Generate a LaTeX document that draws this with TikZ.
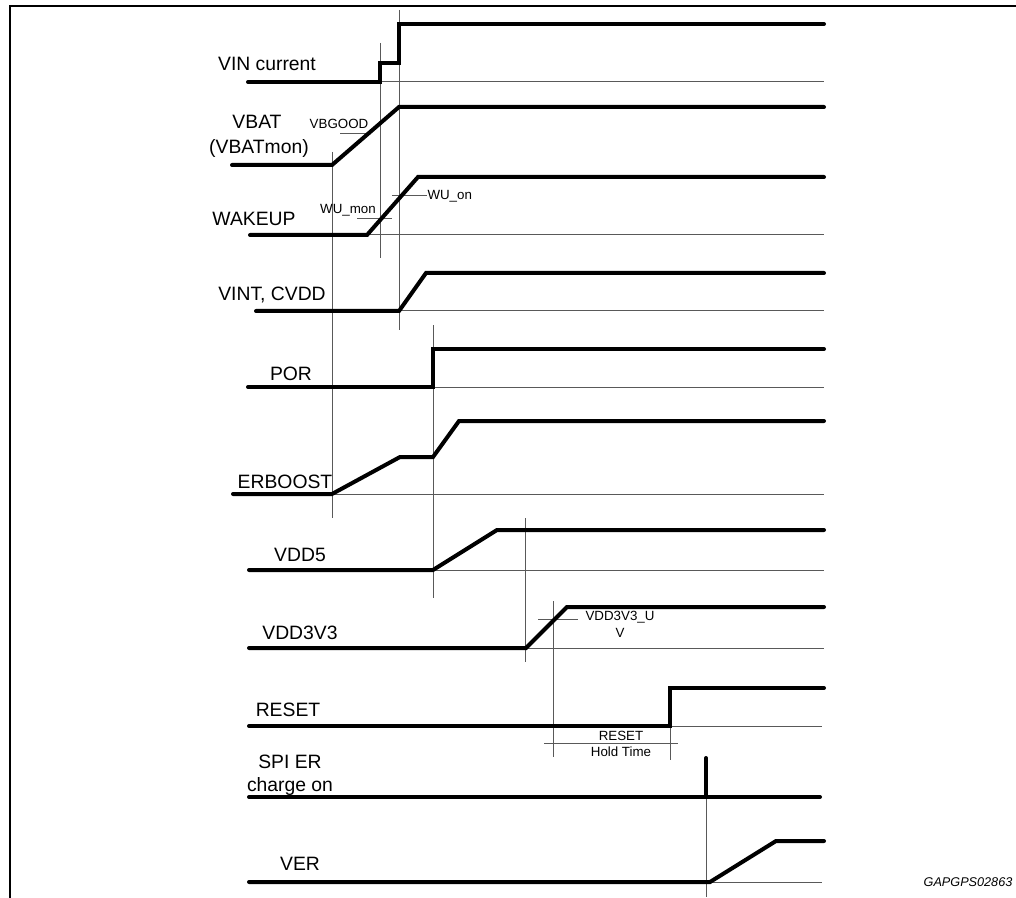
\documentclass[tikz,border=0pt]{standalone}
\usepackage{fontspec}
\setmainfont{Liberation Sans}

\tikzset{every picture/.style={line width=0.75pt}}
\tikzset{
  sig/.style={line width=3pt, line cap=round},
  guide/.style={line width=0.75pt, draw=black!65},
  lbl/.style={font=\fontsize{14.5}{17}\selectfont, inner sep=0.75pt},
  smalllbl/.style={font=\fontsize{10}{11}\selectfont, inner sep=0.75pt}
}

\begin{document}
\begin{tikzpicture}[x=0.75pt,y=0.75pt,yscale=-1,xscale=1]
        \useasboundingbox (0,0) rectangle (1016,898);

        %Frame
        \draw [line width=1.5pt]  (10,898) -- (10,6) -- (1016,6) ;

        %Vertical guides
        \draw [guide]  (380,43) -- (380,258) ;
        \draw [guide]  (399,10) -- (399,330) ;
        \draw [guide]  (332,152) -- (332,518) ;
        \draw [guide]  (433,325) -- (433,598) ;
        \draw [guide]  (525,518) -- (525,662) ;
        \draw [guide]  (553,601) -- (553,757) ;
        \draw [guide]  (670,726) -- (670,760) ;
        \draw [guide]  (706,797) -- (706,897) ;

        %Baselines and thresholds
        \draw [guide]  (380,82) -- (824,82) ;
        \draw [guide]  (340,134) -- (368,134) ;
        \draw [guide]  (367,235) -- (824,235) ;
        \draw [guide]  (357,219) -- (392,219) ;
        \draw [guide]  (392,196) -- (427,196) ;
        \draw [guide]  (399,311) -- (824,311) ;
        \draw [guide]  (433,387) -- (824,387) ;
        \draw [guide]  (332,494) -- (824,494) ;
        \draw [guide]  (433,570) -- (824,570) ;
        \draw [guide]  (526,648) -- (824,648) ;
        \draw [guide]  (538,619) -- (578,619) ;
        \draw [guide]  (670,726) -- (822,726) ;
        \draw [guide]  (544,743) -- (678,743) ;
        \draw [guide]  (710,882) -- (822,882) ;

        %Signal: VIN current
        \draw [sig]  (248,82) -- (380,82) -- (380,63) -- (399,63) -- (399,24) -- (824,24) ;
        %Signal: VBAT
        \draw [sig]  (232,165) -- (332,165) -- (399,107) -- (824,107) ;
        %Signal: WAKEUP
        \draw [sig]  (250,235) -- (367,235) -- (418,177) -- (824,177) ;
        %Signal: VINT, CVDD
        \draw [sig]  (256,311) -- (399,311) -- (426,273) -- (824,273) ;
        %Signal: POR
        \draw [sig]  (248,387) -- (433,387) -- (433,349) -- (824,349) ;
        %Signal: ERBOOST
        \draw [sig]  (233,494) -- (332,494) -- (400,457) -- (433,457) -- (459,421) -- (824,421) ;
        %Signal: VDD5
        \draw [sig]  (249,570) -- (433,570) -- (497,530) -- (824,530) ;
        %Signal: VDD3V3
        \draw [sig]  (249,648) -- (526,648) -- (567,607) -- (824,607) ;
        %Signal: RESET
        \draw [sig]  (249,726) -- (670,726) -- (670,688) -- (824,688) ;
        %Signal: SPI ER charge on
        \draw [sig]  (249,797) -- (820,797) ;
        \draw [sig]  (706,797) -- (706,758) ;
        %Signal: VER
        \draw [sig]  (249,882) -- (710,882) -- (776,841) -- (824,841) ;

        % Text Node
        \draw (267,64) node [lbl] (vinlbl) {VIN current};
        % Text Node
        \draw (257,122) node [lbl] (vbatlbl) {VBAT};
        % Text Node
        \draw (259,148) node [lbl] (vbatmonlbl) {(VBATmon)};
        % Text Node
        \draw (339,124) node [smalllbl] (vbgoodlbl) {VBGOOD};
        % Text Node
        \draw (254,219) node [lbl] (wakeuplbl) {WAKEUP};
        % Text Node
        \draw (348,210) node [smalllbl] (wumonlbl) {WU\_mon};
        % Text Node
        \draw (427,196) node [smalllbl, anchor=west, inner sep=0pt] (wuonlbl) {WU\_on};
        % Text Node
        \draw (272,295) node [lbl] (vintlbl) {VINT, CVDD};
        % Text Node
        \draw (291,374) node [lbl] (porlbl) {POR};
        % Text Node
        \draw (285,482) node [lbl] (erboostlbl) {ERBOOST};
        % Text Node
        \draw (300,555) node [lbl] (vddfivelbl) {VDD5};
        % Text Node
        \draw (300,633) node [lbl] (vddthreelbl) {VDD3V3};
        % Text Node
        \draw (620,617) node [smalllbl] (uvlbla) {VDD3V3\_U};
        % Text Node
        \draw (620,633) node [smalllbl] (uvlblb) {V};
        % Text Node
        \draw (288,710) node [lbl] (resetlbl) {RESET};
        % Text Node
        \draw (621,736) node [smalllbl] (holdlbla) {RESET};
        % Text Node
        \draw (621,752) node [smalllbl] (holdlblb) {Hold Time};
        % Text Node
        \draw (290,762) node [lbl] (spilbla) {SPI ER};
        % Text Node
        \draw (290,786) node [lbl] (spilblb) {charge on};
        % Text Node
        \draw (300,864) node [lbl] (verlbl) {VER};
        % Text Node
        \draw (968,882) node [font=\fontsize{9.5}{11}\selectfont\itshape] (figid) {GAPGPS02863};
\end{tikzpicture}
\end{document}
